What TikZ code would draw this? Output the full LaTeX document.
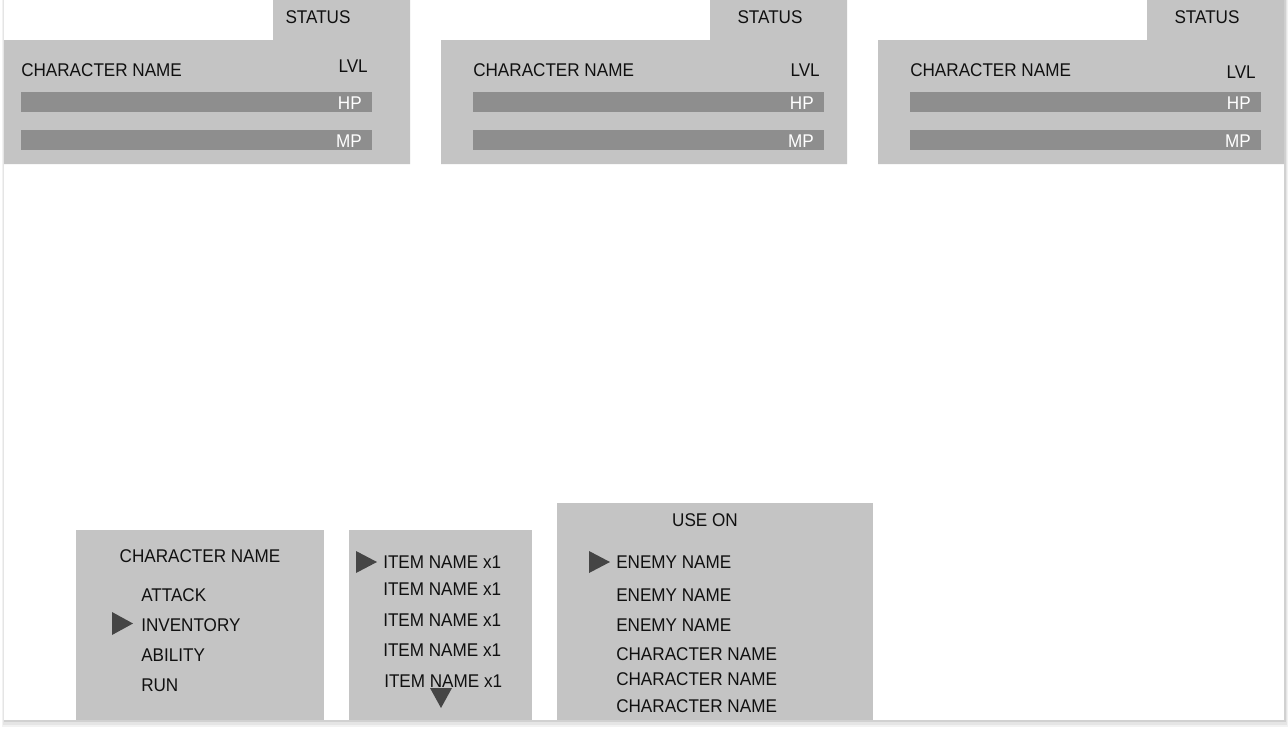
\documentclass[tikz,border=0pt]{standalone}
\usepackage{fontspec}
\setmainfont{Liberation Sans}[FakeStretch=0.93]
\definecolor{panel}{HTML}{C4C4C4}
\definecolor{bar}{HTML}{8E8E8E}
\definecolor{mark}{HTML}{454545}
\definecolor{ink}{HTML}{101010}
\begin{document}
\begin{tikzpicture}[x=0.75pt,y=-0.75pt,
  txt/.style={inner sep=0pt, font=\fontsize{13.8pt}{16pt}\selectfont, text=ink},
  wtxt/.style={txt, text=white},
  panelfill/.style={fill=panel, draw=none},
  barfill/.style={fill=bar, draw=none},
  markfill/.style={fill=mark, draw=none}]
\useasboundingbox (0,0) rectangle (1288,728);
% page with shadow
\fill[black!5] (2,0) rectangle (1288,727);
\fill[black!10] (3,0) rectangle (1287,725);
\fill[black!18] (4,0) rectangle (1285.5,722);
\fill[white] (4,0) rectangle (1284,720);
% status panels
\foreach \L/\R/\bl/\br/\sx/\lv/\lx/\hx [count=\i] in
  {4/410/21/372/318/72/368/362, 441/847/473/824/770/76/820/814, 878/1284/910/1261/1207/78/1256/1251}{
  \fill[panelfill] (\L,40) -- (\R-137,40) -- (\R-137,0) -- (\R,0) -- (\R,164) -- (\L,164) -- cycle;
  \fill[barfill] (\bl,92) rectangle (\br,112);
  \fill[barfill] (\bl,130) rectangle (\br,150);
  \node[txt, anchor=base] (st\i) at (\sx,23) {STATUS};
  \node[txt, anchor=base west] (cn\i) at (\bl,76) {CHARACTER NAME};
  \node[txt, anchor=base east] (lv\i) at (\lx,\lv) {LVL};
  \node[wtxt, anchor=base east] (hp\i) at (\hx,109.5) {HP};
  \node[wtxt, anchor=base east] (mp\i) at (\hx,147) {MP};
}
% command menu
\fill[panelfill] (76,530) rectangle (324,720);
\node[txt, anchor=base] (cmdtitle) at (200,562) {CHARACTER NAME};
\node[txt, anchor=base west] (attack) at (141,601) {ATTACK};
\node[txt, anchor=base west] (inventory) at (141,631) {INVENTORY};
\node[txt, anchor=base west] (ability) at (141,661) {ABILITY};
\node[txt, anchor=base west] (run) at (141,691) {RUN};
\fill[markfill] (112,612) -- (133,623.5) -- (112,635) -- cycle;
% item menu
\fill[panelfill] (349,530) rectangle (532,720);
\node[txt, anchor=base west] (item1) at (383,568) {ITEM NAME x1};
\node[txt, anchor=base west] (item2) at (383,595) {ITEM NAME x1};
\node[txt, anchor=base west] (item3) at (383,626) {ITEM NAME x1};
\node[txt, anchor=base west] (item4) at (383,656) {ITEM NAME x1};
\node[txt, anchor=base west] (item5) at (384,687) {ITEM NAME x1};
\fill[markfill] (356,551) -- (377,562) -- (356,573) -- cycle;
\fill[markfill] (430,688) -- (452,688) -- (441,708) -- cycle;
% target menu
\fill[panelfill] (557,503) rectangle (873,720);
\node[txt, anchor=base] (useon) at (705,526) {USE ON};
\node[txt, anchor=base west] (en1) at (616,568) {ENEMY NAME};
\node[txt, anchor=base west] (en2) at (616,601) {ENEMY NAME};
\node[txt, anchor=base west] (en3) at (616,631) {ENEMY NAME};
\node[txt, anchor=base west] (ch1) at (616,660) {CHARACTER NAME};
\node[txt, anchor=base west] (ch2) at (616,685) {CHARACTER NAME};
\node[txt, anchor=base west] (ch3) at (616,712) {CHARACTER NAME};
\fill[markfill] (589,551) -- (610,562) -- (589,573) -- cycle;
\end{tikzpicture}
\end{document}
